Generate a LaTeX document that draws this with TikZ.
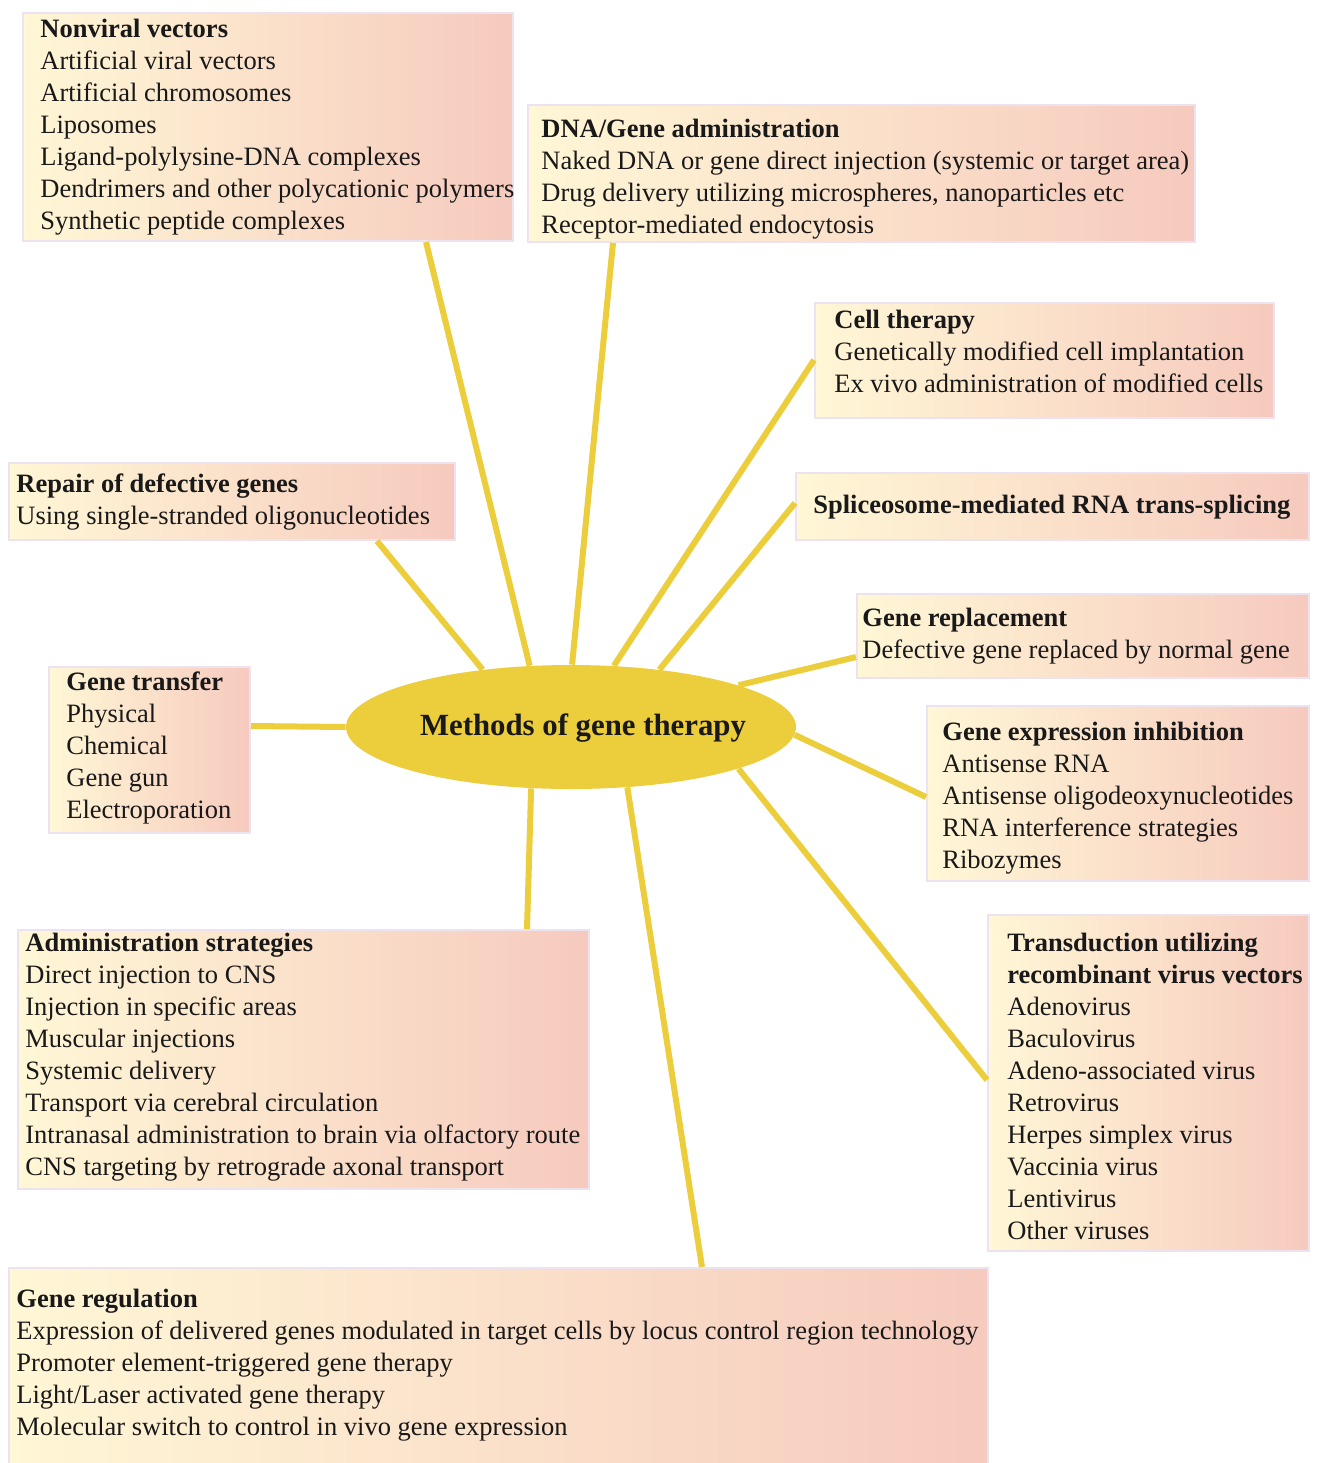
\documentclass[tikz,border=0pt]{standalone}
\usepackage{fontspec}
\setmainfont{Liberation Serif}
\usetikzlibrary{calc,shapes.geometric}
\definecolor{boxL}{RGB}{255,247,214}
\definecolor{boxR}{RGB}{246,202,190}
\definecolor{boxEdge}{RGB}{236,226,240}
\definecolor{gold}{RGB}{236,205,60}
\begin{document}
\begin{tikzpicture}[x=0.5pt,y=-0.5pt,
  panel/.style={anchor=north west, inner sep=0pt, left color=boxL, right color=boxR, draw=boxEdge, line width=1pt},
  txt/.style={anchor=west, inner sep=0pt, align=left, font=\fontsize{13.25}{16}\selectfont, text=black!90},
  conn/.style={draw=gold, line width=3pt}]
\useasboundingbox (0,0) rectangle (1317,1463);
\fill[white] (0,0) rectangle (1317,1463);
% boxes
\node[panel, minimum width=245pt, minimum height=114pt] (nv) at (22,12) {};
\node[panel, minimum width=333.5pt, minimum height=68.5pt] (dna) at (527,104) {};
\node[panel, minimum width=229.5pt, minimum height=57.5pt] (cell) at (814,302) {};
\node[panel, minimum width=256.5pt, minimum height=33.5pt] (spl) at (795,472) {};
\node[panel, minimum width=226pt, minimum height=42pt] (rep) at (856,593) {};
\node[panel, minimum width=191pt, minimum height=87.5pt] (inh) at (926,705) {};
\node[panel, minimum width=160.5pt, minimum height=168pt] (trd) at (987,914) {};
\node[panel, minimum width=489.5pt, minimum height=98pt] (reg) at (8,1267) {};
\node[panel, minimum width=285.5pt, minimum height=129.5pt] (adm) at (17,929) {};
\node[panel, minimum width=100.5pt, minimum height=83pt] (trf) at (48,666) {};
\node[panel, minimum width=223pt, minimum height=38.5pt] (rpr) at (8,462) {};
% texts
\node[txt] (nvt) at (40,127) {\textbf{Nonviral vectors}\\Artificial viral vectors\\Artificial chromosomes\\Liposomes\\Ligand-polylysine-DNA complexes\\Dendrimers and other polycationic polymers\\Synthetic peptide complexes};
\node[txt] (dnat) at (541,179) {\textbf{DNA/Gene administration}\\Naked DNA or gene direct injection (systemic or target area)\\Drug delivery utilizing microspheres, nanoparticles etc\\Receptor-mediated endocytosis};
\node[txt] (cellt) at (834,351.5) {\textbf{Cell therapy}\\Genetically modified cell implantation\\Ex vivo administration of modified cells};
\node[txt] (splt) at (813,507) {\textbf{Spliceosome-mediated RNA trans-splicing}};
\node[txt] (rept) at (862,636) {\textbf{Gene replacement}\\Defective gene replaced by normal gene};
\node[txt] (inht) at (942,798) {\textbf{Gene expression inhibition}\\Antisense RNA\\Antisense oligodeoxynucleotides\\RNA interference strategies\\Ribozymes};
\node[txt] (trdt) at (1007,1086) {\textbf{Transduction utilizing}\\\textbf{recombinant virus vectors}\\Adenovirus\\Baculovirus\\Adeno-associated virus\\Retrovirus\\Herpes simplex virus\\Vaccinia virus\\Lentivirus\\Other viruses};
\node[txt] (regt) at (16,1365) {\textbf{Gene regulation}\\Expression of delivered genes modulated in target cells by locus control region technology\\Promoter element-triggered gene therapy\\Light/Laser activated gene therapy\\Molecular switch to control in vivo gene expression};
\node[txt] (admt) at (25,1057) {\textbf{Administration strategies}\\Direct injection to CNS\\Injection in specific areas\\Muscular injections\\Systemic delivery\\Transport via cerebral circulation\\Intranasal administration to brain via olfactory route\\CNS targeting by retrograde axonal transport};
\node[txt] (trft) at (66,748) {\textbf{Gene transfer}\\Physical\\Chemical\\Gene gun\\Electroporation};
\node[txt] (rprt) at (16,502) {\textbf{Repair of defective genes}\\Using single-stranded oligonucleotides};
% centre
\node[ellipse, fill=gold, minimum width=225pt, minimum height=62pt, inner sep=0pt] (ell) at (571,727) {};
% connectors
\draw[conn] (ell.124.7) -- ($(nv.south west)+(404,0)$);
\draw[conn] (ell.89) -- ($(dna.south west)+(86,0)$);
\draw[conn] (ell.55.3) -- ($(cell.north west)+(0,58)$);
\draw[conn] (ell.33.1) -- ($(spl.north west)+(0,31)$);
\draw[conn] (ell.14) -- ($(rep.north west)+(0,64)$);
\draw[conn] (ell.-2.8) -- ($(inh.north west)+(0,92)$);
\draw[conn] (ell.-14.6) -- ($(trd.north west)+(0,166)$);
\draw[conn] (ell.-47.9) -- ($(reg.north west)+(694,0)$);
\draw[conn] (ell.237.2) -- ($(adm.north west)+(510,0)$);
\draw[conn] (ell.180) -- ($(trf.north east)+(0,60)$);
\draw[conn] (ell.147.4) -- ($(rpr.south west)+(369,0)$);
\node[font=\fontsize{15.4}{18}\selectfont\bfseries, text=black!90, inner sep=0pt] (ellt) at (583,728) {Methods of gene therapy};
\end{tikzpicture}
\end{document}
